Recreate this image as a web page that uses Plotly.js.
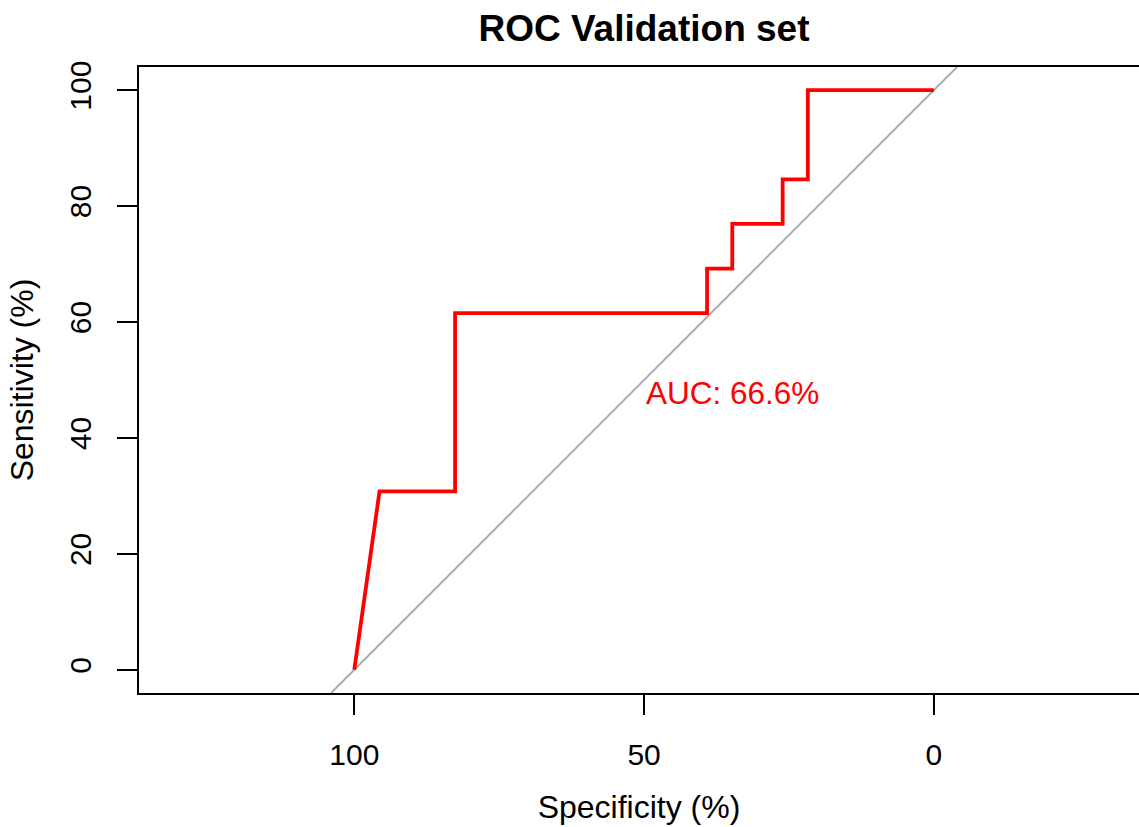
<!DOCTYPE html>
<html>
<head>
<meta charset="utf-8">
<script src="https://cdn.plot.ly/plotly-3.0.1.min.js"></script>
<style>
  html, body { margin: 0; padding: 0; background: #ffffff; overflow: hidden; }
  #chart { width: 1139px; height: 827px; }
</style>
</head>
<body>
<div id="chart"></div>
<script>
// ROC curve coordinates (percent) for the validation set
const specificity = [100, 95.65, 82.61, 82.61, 39.13, 39.13, 34.78, 34.78, 26.09, 26.09, 21.74, 21.74, 0];
const sensitivity = [0, 30.77, 30.77, 61.54, 61.54, 69.23, 69.23, 76.92, 76.92, 84.62, 84.62, 100, 100];
const aucPercent = 66.6;

// axis settings
const xTicks = [100, 50, 0];
const yTicks = [0, 20, 40, 60, 80, 100];
const xRange = [137.15, -35.4];   // specificity axis runs from 100 down to 0
const yRange = [-4, 104];

// chance line: sensitivity = 100 - specificity, across the full y range
const chanceY = [yRange[0], yRange[1]];
const chanceX = chanceY.map(v => 100 - v);

const FONT = '"Liberation Sans", Arial, Helvetica, sans-serif';

const traces = [
  {
    x: chanceX, y: chanceY,
    type: 'scatter', mode: 'lines',
    line: { color: '#a9a9a9', width: 1.9 },
    hoverinfo: 'skip', showlegend: false
  },
  {
    x: specificity, y: sensitivity,
    type: 'scatter', mode: 'lines',
    line: { color: '#ff0000', width: 3.8 },
    name: 'ROC', showlegend: false
  }
];

const layout = {
  width: 1139, height: 827,
  margin: { l: 139, r: 0, t: 67, b: 134 },
  paper_bgcolor: '#ffffff', plot_bgcolor: '#ffffff',
  font: { family: FONT, size: 30, color: '#000000' },
  showlegend: false,
  title: {
    text: '<b>ROC Validation set</b>',
    font: { family: FONT, size: 37, color: '#000000' },
    x: 644 / 1139, xref: 'container', xanchor: 'center',
    y: 1 - 28 / 827, yref: 'container', yanchor: 'middle'
  },
  xaxis: {
    range: xRange,
    tickmode: 'array', tickvals: xTicks, ticktext: xTicks.map(String),
    ticks: 'outside', ticklen: 20, tickwidth: 1.9, tickcolor: '#000000',
    showline: true, linecolor: '#000000', linewidth: 1.9, mirror: true,
    showgrid: false, zeroline: false,
    tickfont: { family: FONT, size: 30, color: '#000000' },
    ticklabelstandoff: 14,
    title: { text: 'Specificity (%)', font: { family: FONT, size: 32, color: '#000000' }, standoff: 26 }
  },
  yaxis: {
    range: yRange,
    tickmode: 'array', tickvals: yTicks, ticktext: yTicks.map(String),
    ticks: 'outside', ticklen: 20, tickwidth: 1.9, tickcolor: '#000000',
    showline: true, linecolor: '#000000', linewidth: 1.9, mirror: false,
    showgrid: false, zeroline: false,
    tickangle: -90,
    tickfont: { family: FONT, size: 30, color: '#000000' },
    ticklabelstandoff: 14,
    title: { text: 'Sensitivity (%)', font: { family: FONT, size: 32, color: '#000000' }, standoff: 21 }
  },
  annotations: [
    {
      x: 50, y: 50, xref: 'x', yref: 'y',
      xanchor: 'left', yanchor: 'top', yshift: 7,
      text: 'AUC: ' + aucPercent.toFixed(1) + '%',
      showarrow: false,
      font: { family: FONT, size: 31.5, color: '#ff0000' }
    }
  ]
};

Plotly.newPlot('chart', traces, layout, { staticPlot: true, displayModeBar: false });
</script>
</body>
</html>
